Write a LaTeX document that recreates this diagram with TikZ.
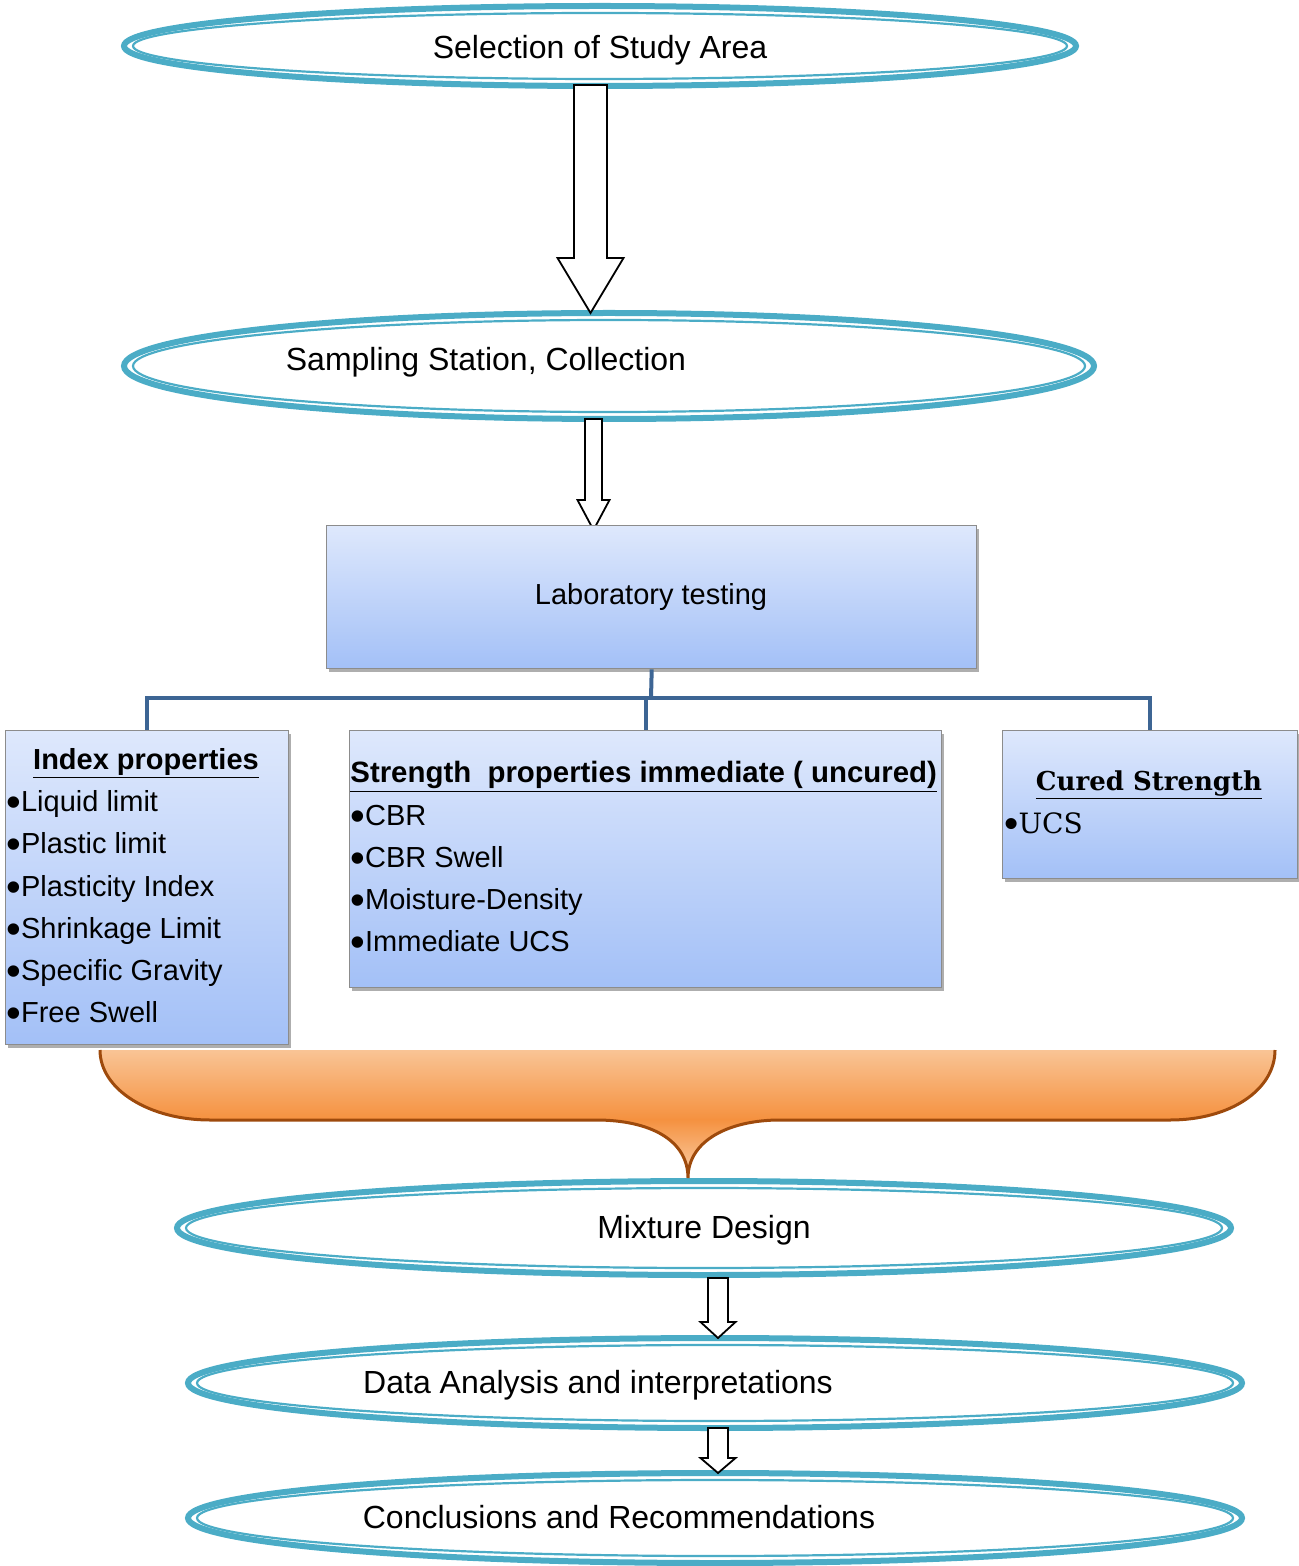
\documentclass[tikz,border=0pt]{standalone}
\usepackage{fontspec}
\usepackage{graphicx}
\setmainfont{Liberation Sans}
\newfontfamily\bkfont{DejaVu Serif}
\usetikzlibrary{shapes.geometric,shadows}
\definecolor{ellc}{HTML}{4BACC6}
\definecolor{connc}{HTML}{3D6594}
\definecolor{boxtop}{HTML}{DEE8FC}
\definecolor{boxbot}{HTML}{A3C0F7}
\definecolor{boxline}{HTML}{8C8C8C}
\definecolor{brtop}{HTML}{F9C495}
\definecolor{brbot}{HTML}{F5913F}
\definecolor{brline}{HTML}{9E4A0C}
\newcommand\bul{\raisebox{-0.33ex}{\scalebox{1.45}{•}}}
\newcommand\dellipse[5]{%
  \node[outell, minimum width=#4 pt, minimum height=#5 pt] (#1) at (#2,#3) {};
  \draw[inell] (#1.center) ellipse [x radius={(#4-9)*0.5pt}, y radius={(#5-7)*0.5pt}];}
\newcommand\blockarr[6]{%
  \draw[barrow] (#1-#5,#2) -- (#1+#5,#2) -- (#1+#5,#3) -- (#1+#6,#3) -- (#1,#4)
     -- (#1-#6,#3) -- (#1-#5,#3) -- cycle;}
\begin{document}
\begin{tikzpicture}[x=0.5pt,y=-0.5pt,
  outell/.style={ellipse, draw=ellc, line width=3pt, inner sep=0pt},
  inell/.style={draw=ellc, line width=1.1pt},
  barrow/.style={draw=black, line width=0.9pt, fill=white, line join=miter},
  box/.style={draw=boxline, line width=0.7pt, top color=boxtop, bottom color=boxbot,
     anchor=north west, inner sep=0pt,
     drop shadow={shadow xshift=1.2pt, shadow yshift=-1.8pt, opacity=0.45, fill=black!70}},
  conn/.style={draw=connc, line width=2pt},
  big/.style={font=\fontsize{16}{19}\selectfont, anchor=base, inner sep=0pt},
  itm/.style={font=\fontsize{14.5}{17}\selectfont, anchor=base west, inner sep=0pt},
  ttl/.style={font=\fontsize{14.5}{17}\selectfont\bfseries, anchor=base, inner sep=0pt}]
\useasboundingbox (0,0) rectangle (1298,1566);

% ellipses
\dellipse{e1}{600}{46}{476}{40}
\dellipse{e2}{609}{366}{485}{53}
\dellipse{e3}{704}{1228}{527}{47}
\dellipse{e4}{715}{1383}{527}{45}
\dellipse{e5}{715}{1518}{527}{45}

\node[big] (t1) at (600,59) {Selection of Study Area};
\node[big] (t2) at (486,371) {Sampling Station, Collection};
\node[big] (t3) at (704,1238) {Mixture Design};
\node[big] (t4) at (598,1393) {Data Analysis and interpretations};
\node[big] (t5) at (619,1528) {Conclusions and Recommendations};

% block arrows
\blockarr{590.5}{85}{258}{313}{16.5}{33}
\blockarr{593.5}{419}{500}{530}{8.5}{16}
\blockarr{718}{1278}{1322}{1338}{10}{17.5}
\blockarr{718}{1428}{1458}{1473}{10}{17.5}

% boxes
\node[box, minimum width=325pt, minimum height=71.5pt] (lab) at (326,525) {};
\node[box, minimum width=141.5pt, minimum height=157pt] (idx) at (5,730) {};
\node[box, minimum width=296pt, minimum height=128.5pt] (str) at (349,730) {};
\node[box, minimum width=147.5pt, minimum height=74pt] (cur) at (1002,730) {};

\node[font=\fontsize{14.5}{17}\selectfont, anchor=base, inner sep=0pt] (labt) at (651,604) {Laboratory testing};

% connectors
\coordinate (j) at (651,698);
\draw[conn] (lab.south) -- (j);
\draw[conn] (idx.north) |- (j) -| (cur.north);
\draw[conn] (str.north) -- (str.north |- j);

% index properties
\node[ttl] (it) at (146,769) {\underline{Index properties}};
\node[itm] (i1) at (6,811) {\bul Liquid limit};
\node[itm] (i2) at (6,853) {\bul Plastic limit};
\node[itm] (i3) at (6,896) {\bul Plasticity Index};
\node[itm] (i4) at (6,938) {\bul Shrinkage Limit};
\node[itm] (i5) at (6,980) {\bul Specific Gravity};
\node[itm] (i6) at (6,1022) {\bul Free Swell};

% strength
\node[ttl, font=\fontsize{14.7}{17}\selectfont\bfseries, anchor=base west] (st) at (350,782) {\underline{Strength\ \ properties immediate ( uncured)}};
\node[itm] (s1) at (350,825) {\bul CBR};
\node[itm] (s2) at (350,867) {\bul CBR Swell};
\node[itm] (s3) at (350,909) {\bul Moisture-Density};
\node[itm] (s4) at (350,951) {\bul Immediate UCS};

% cured
\node[font=\fontsize{13}{16}\bkfont\bfseries, anchor=base, inner sep=0pt] (ct) at (1149,790) {\underline{Cured Strength}};
\node[font=\fontsize{14}{17}\bkfont, anchor=base west, inner sep=0pt] (c1) at (1004,833) {{\rmfamily\bul}UCS};

% brace
\shade[top color=brtop, bottom color=brbot] (100,1050) -- (1275,1050)
  .. controls (1275,1090) and (1230,1120) .. (1170,1120) -- (210,1120)
  .. controls (150,1120) and (100,1090) .. (100,1050) -- cycle;
\shade[top color=brbot, bottom color=brtop!80!white] (596,1119)
  .. controls (650,1120) and (688,1140) .. (688,1178)
  .. controls (688,1140) and (730,1120) .. (780,1119) -- cycle;
\draw[brline, line width=1.5pt] (100,1050) .. controls (100,1090) and (150,1120) .. (210,1120)
  -- (596,1120) .. controls (650,1120) and (688,1140) .. (688,1178)
  .. controls (688,1140) and (730,1120) .. (780,1120)
  -- (1170,1120) .. controls (1230,1120) and (1275,1090) .. (1275,1050);
\end{tikzpicture}
\end{document}
